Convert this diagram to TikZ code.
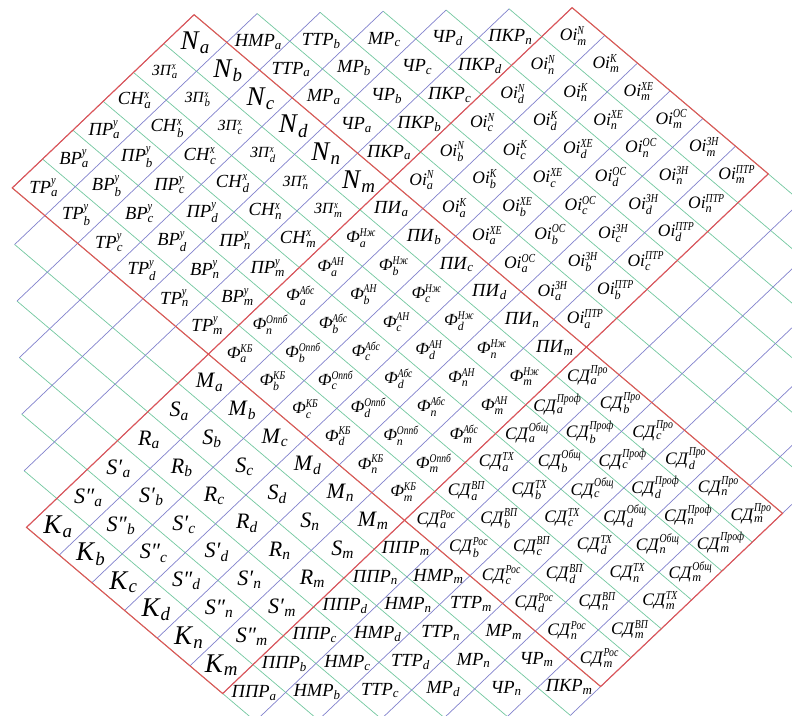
\documentclass[tikz,border=0pt]{standalone}
\usepackage{amsmath}
\usepackage{graphicx}
\usepackage{fontspec}
\setmainfont{Liberation Serif}
\definecolor{gridG}{RGB}{115,200,160}
\definecolor{gridB}{RGB}{130,130,205}
\definecolor{blockR}{RGB}{225,85,85}
\newcommand{\Lb}[3]{\textit{#1}$_{\text{\itshape #2}}^{\text{\scalebox{0.8}[1]{\itshape #3}}}$}
\newcommand{\Ls}[2]{\textit{#1}$_{\text{\itshape #2}}$}
\tikzset{
  gline/.style={draw=gridG, line width=0.7pt},
  bline/.style={draw=gridB, line width=0.7pt},
  rline/.style={draw=blockR, line width=1.1pt, line join=miter},
  lab/.style={inner sep=0pt, font=\fontsize{18.5}{18.5}\selectfont},
  oil/.style={inner sep=0pt, font=\fontsize{17.5}{17.5}\selectfont},
  sdl/.style={inner sep=0pt, font=\fontsize{17.5}{17.5}\selectfont},
  sm/.style={inner sep=0pt, font=\fontsize{17}{17}\selectfont},
  zp/.style={inner sep=0pt, font=\fontsize{15.5}{15.5}\selectfont},
  mid/.style={inner sep=0pt, font=\fontsize{22}{22}\selectfont},
  bigL/.style={inner sep=0pt, font=\fontsize{27}{27}\selectfont}
}
\begin{document}
\begin{tikzpicture}[x={(32.69pt,-27.70pt)}, y={(-30.31pt,-28.87pt)}]
\fill[white] (-194.1pt,14.7pt) rectangle (597.9pt,-700.3pt);
\useasboundingbox (-194.1pt,14.7pt) rectangle (597.9pt,-700.3pt);
\begin{scope}
\clip (-194.1pt,14.7pt) rectangle (597.9pt,-700.3pt);
% lines of constant v (green)
\foreach \k/\a/\b in {-6/6/13,-5/5/14,-4/4/15,-3/3/16,-2/2/17,-1/1/18,0/0/18,1/0/18,2/0/18,3/0/18,4/0/18,5/0/18,6/0/18,7/1/18,8/2/17,9/3/16,10/4/15,11/5/14,12/6/13}
  \draw[gline] (\a,\k) -- (\b,\k);
% lines of constant u (blue)
\foreach \k/\a/\b in {0/0/6,1/-1/7,2/-2/8,3/-3/9,4/-4/10,5/-5/11,6/-6/12,7/-6/12,8/-6/12,9/-6/12,10/-6/12,11/-6/12,12/-6/12,13/-6/12,14/-5/11,15/-4/10,16/-3/9,17/-2/8,18/-1/7}
  \draw[bline] (\k,\a) -- (\k,\b);
% red block outlines
\draw[rline] (0,0) -- (6,0) -- (6,6) -- (0,6) -- cycle;
\draw[rline] (6,-6) -- (12,-6) -- (12,0) -- (6,0) -- cycle;
\draw[rline] (6,6) -- (12,6) -- (12,12) -- (6,12) -- cycle;
\draw[rline] (12,0) -- (18,0) -- (18,6) -- (12,6) -- cycle;
\end{scope}
% block A
\foreach \L [count=\i from 0] in {a,b,c,d,n,m} {
  \node[bigL] (A-\i-0) at (\i+0.5,0.5) {\Ls{N}{\L}};
  \node[zp] (A-\i-1) at (\i+0.5,1.5) {\Lb{ЗП}{\L}{x}};
  \node[lab] (A-\i-2) at (\i+0.5,2.5) {\Lb{СН}{\L}{x}};
  \node[lab] (A-\i-3) at (\i+0.5,3.5) {\Lb{ПР}{\L}{y}};
  \node[lab] (A-\i-4) at (\i+0.5,4.5) {\Lb{ВР}{\L}{y}};
  \node[lab] (A-\i-5) at (\i+0.5,5.5) {\Lb{ТР}{\L}{y}};
}
% block F
\foreach \L/\Lo [count=\i from 6] in {a/n,b/b,c/c,d/d,n/n,m/m} {
  \node[lab] (F-\i-0) at (\i+0.5,0.5) {\Ls{ПИ}{\L}};
  \node[sm] (F-\i-1) at (\i+0.5,1.5) {\Lb{Ф}{\L}{Нж}};
  \node[sm] (F-\i-2) at (\i+0.5,2.5) {\Lb{Ф}{\L}{АН}};
  \node[sm] (F-\i-3) at (\i+0.5,3.5) {\Lb{Ф}{\L}{Абс}};
  \node[sm] (F-\i-4) at (\i+0.5,4.5) {\Lb{Ф}{\Lo}{Оппб}};
  \node[sm] (F-\i-5) at (\i+0.5,5.5) {\Lb{Ф}{\L}{КБ}};
}
% block C
\foreach \L [count=\i from 6] in {a,b,c,d,n,m} {
  \node[mid] (C-\i-6) at (\i+0.5,6.5) {\Ls{M}{\L}};
  \node[mid] (C-\i-7) at (\i+0.5,7.5) {\Ls{S}{\L}};
  \node[mid] (C-\i-8) at (\i+0.5,8.5) {\Ls{R}{\L}};
  \node[mid] (C-\i-9) at (\i+0.5,9.5) {\Ls{S′}{\L}};
  \node[mid] (C-\i-10) at (\i+0.5,10.5) {\Ls{S″}{\L}};
  \node[bigL] (C-\i-11) at (\i+0.5,11.5) {\Ls{K}{\L}};
}
% block D
\foreach \L [count=\i from 12] in {a,b,c,d,n,m} {
  \node[sdl] (D-\i-0) at (\i+0.5,0.5) {\Lb{СД}{\L}{Про}};
  \node[sdl] (D-\i-1) at (\i+0.5,1.5) {\Lb{СД}{\L}{Проф}};
  \node[sdl] (D-\i-2) at (\i+0.5,2.5) {\Lb{СД}{\L}{Общ}};
  \node[sdl] (D-\i-3) at (\i+0.5,3.5) {\Lb{СД}{\L}{ТХ}};
  \node[sdl] (D-\i-4) at (\i+0.5,4.5) {\Lb{СД}{\L}{ВП}};
  \node[sdl] (D-\i-5) at (\i+0.5,5.5) {\Lb{СД}{\L}{Рос}};
}
% block B
\foreach \L [count=\j from 1] in {a,b,c,d,n,m} {
  \foreach \T [count=\k from 6] in {N,K,ХЕ,ОС,ЗН,ПТР} {
    \node[oil] (B-\k-\j) at (\k+0.5,-\j+0.5) {\Lb{Oi}{\L}{\T}};
  }
}
% top triangle
\foreach \T [count=\k from 1] in {НМР,ТТР,МР,ЧР,ПКР} {
  \foreach \L [count=\j from 1] in {a,b,c,d,n} {
    \ifnum\j>\k\relax\else
      \node[lab] (T-\k-\j) at (\k+0.5,-\j+0.5) {\Ls{\T}{\L}};
    \fi
  }
}
% bottom triangle
\foreach \T [count=\k from 0] in {ППР,НМР,ТТР,МР,ЧР,ПКР} {
  \foreach \L [count=\j from 0] in {m,n,d,c,b,a} {
    \pgfmathtruncatemacro\s{\k+\j}
    \ifnum\s>5\relax\else
      \node[lab] (U-\k-\j) at (12.5+\k,6.5+\j) {\Ls{\T}{\L}};
    \fi
  }
}
\end{tikzpicture}
\end{document}
